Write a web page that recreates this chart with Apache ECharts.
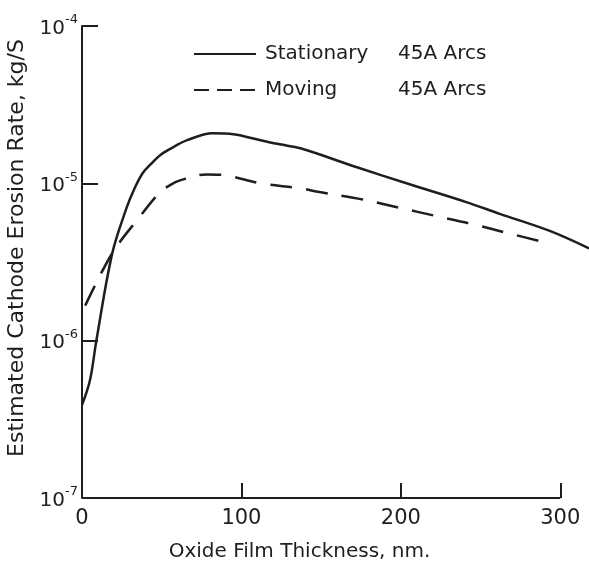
<!DOCTYPE html>
<html>
<head>
<meta charset="utf-8">
<script src="https://cdn.jsdelivr.net/npm/echarts@6/dist/echarts.min.js"></script>
<style>
  html, body { margin: 0; padding: 0; background: #fff; }
  #chart { width: 589px; height: 566px; }
</style>
</head>
<body>
<div id="chart"></div>
<script>
// (x in nm, y in kg/s)
var stationaryX = [0, 5, 9, 19, 28, 33, 38, 43, 49, 55, 66, 82, 95, 112, 124, 137, 172, 205, 241, 262, 293, 318];
var stationaryY = [3.9e-7, 5.6e-7, 1.0e-6, 3.6e-6, 7.0e-6, 9.3e-6, 1.16e-5, 1.32e-5, 1.51e-5, 1.65e-5, 1.88e-5, 2.08e-5, 2.05e-5, 1.88e-5, 1.77e-5, 1.67e-5, 1.27e-5, 9.9e-6, 7.6e-6, 6.4e-6, 5.0e-6, 3.86e-6];
var movingX = [2, 19, 36, 49, 55, 61, 78, 91, 112, 137, 149, 176, 199, 222, 245, 268, 293];
var movingY = [1.67e-6, 3.6e-6, 6.1e-6, 8.8e-6, 9.7e-6, 1.04e-5, 1.14e-5, 1.12e-5, 1.0e-5, 9.3e-6, 8.8e-6, 7.9e-6, 7.0e-6, 6.2e-6, 5.5e-6, 4.8e-6, 4.15e-6];
var xTicks = [0, 100, 200, 300];
var xEnd = 318;   // the curve runs past the last tick to the page edge

var ink = '#1e1e1e';
var font = 'DejaVu Sans';
var clear = 'rgba(0,0,0,0)';

function pairs(xs, ys) {
    return xs.map(function (x, i) { return [x, ys[i]]; });
}

var chart = echarts.init(document.getElementById('chart'));
chart.setOption({
    animation: false,
    backgroundColor: '#fff',
    textStyle: { fontFamily: font, color: ink },
    grid: { left: 82, right: 0, top: 26, bottom: 68, outerBoundsMode: 'none', containLabel: false },
    legend: {
        orient: 'vertical',
        left: 188,
        top: 39,
        itemWidth: 62,
        itemHeight: 16,
        itemGap: 16,
        data: [
            { name: 'Stationary' },
            { name: 'Moving', lineStyle: { type: [15, 8] } }
        ],
        itemStyle: { color: clear, borderColor: clear, borderWidth: 0 },
        formatter: function (name) {
            return '{n|' + name + '}{a|45A Arcs}';
        },
        textStyle: {
            color: ink,
            fontFamily: font,
            fontSize: 20,
            rich: {
                n: { width: 133, fontSize: 20, color: ink, fontFamily: font, padding: [0, 0, 0, 4] },
                a: { fontSize: 20, color: ink, fontFamily: font }
            }
        }
    },
    xAxis: {
        type: 'value',
        min: 0,
        max: xEnd,
        name: 'Oxide Film Thickness, nm.',
        nameLocation: 'middle',
        nameGap: 44,
        nameTextStyle: { fontSize: 20, color: ink, fontFamily: font, padding: [0, 72, 0, 0] },
        axisLine: { show: false },
        axisTick: {
            inside: true, length: 15,
            lineStyle: { color: ink, width: 2 },
            customValues: xTicks.slice(1)
        },
        axisLabel: {
            fontSize: 21, color: ink, margin: 10,
            customValues: xTicks
        },
        splitLine: { show: false }
    },
    yAxis: {
        type: 'log',
        logBase: 10,
        min: 1e-7,
        max: 1e-4,
        name: 'Estimated Cathode Erosion Rate, kg/S',
        nameLocation: 'middle',
        nameGap: 52,
        nameRotate: 90,
        nameTextStyle: { fontSize: 22, color: ink, fontFamily: font, padding: [0, 0, 0, 28] },
        axisLine: { lineStyle: { color: ink, width: 2 } },
        axisTick: { inside: true, length: 16, lineStyle: { color: ink, width: 2 } },
        minorTick: { show: false },
        axisLabel: {
            margin: 4,
            formatter: function (v) {
                var e = Math.round(Math.log10(v));
                return '{b|10}{s|' + e + '}';
            },
            rich: {
                b: { fontSize: 20, color: ink, fontFamily: font, verticalAlign: 'bottom' },
                s: { fontSize: 13, color: ink, fontFamily: font, verticalAlign: 'top', padding: [0, 0, 12, 0] }
            }
        },
        splitLine: { show: false }
    },
    series: [
        {
            name: 'Stationary',
            type: 'line',
            data: pairs(stationaryX, stationaryY),
            smooth: 0.35,
            symbol: 'none',
            color: ink,
            lineStyle: { color: ink, width: 2.5, type: 'solid' },
            // bottom axis line only runs to the last tick
            markLine: {
                silent: true,
                symbol: 'none',
                label: { show: false },
                lineStyle: { color: ink, width: 2, type: 'solid' },
                data: [[{ coord: [xTicks[0], 1e-7] }, { coord: [xTicks[xTicks.length - 1], 1e-7] }]]
            }
        },
        {
            name: 'Moving',
            type: 'line',
            data: pairs(movingX, movingY),
            smooth: 0.35,
            symbol: 'none',
            color: ink,
            lineStyle: { color: ink, width: 2.5, type: [22, 14] }
        }
    ]
});
</script>
</body>
</html>
